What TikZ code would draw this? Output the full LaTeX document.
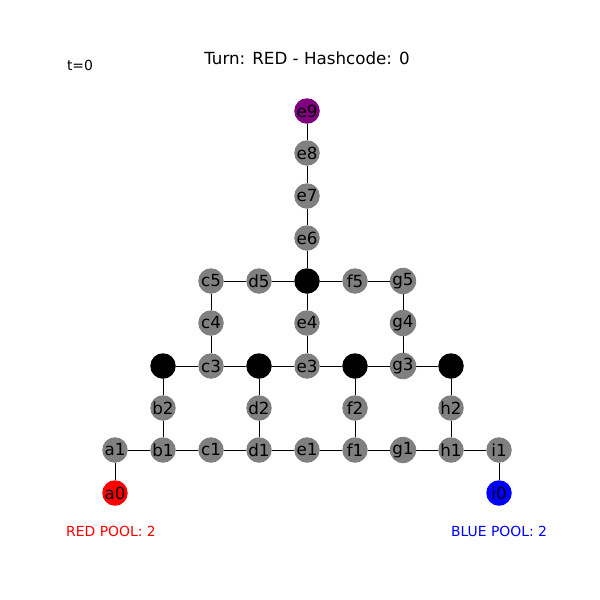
\documentclass[tikz,border=0pt]{standalone}
\usepackage{fontspec}
\setmainfont{DejaVu Sans}
\definecolor{nxpurple}{RGB}{128,0,128}
\definecolor{nxgray}{RGB}{128,128,128}
\begin{document}
\begin{tikzpicture}[x=1pt,y=-1pt,
  nd/.style={circle,fill=nxgray,minimum size=25.5pt,inner sep=0pt,font=\fontsize{16.7}{17}\selectfont},
  blk/.style={nd,fill=black},
  edge/.style={line width=1pt,black}]
\useasboundingbox[fill=white] (0,0) rectangle (600,600);
% nodes
\node[nd] (a1) at (115,450) {a1};
\node[nd] (b1) at (163,450) {b1};
\node[nd] (c1) at (211,450) {c1};
\node[nd] (d1) at (259,450) {d1};
\node[nd] (e1) at (307,450) {e1};
\node[nd] (f1) at (355,450) {f1};
\node[nd] (g1) at (403,450) {g1};
\node[nd] (h1) at (451,450) {h1};
\node[nd] (i1) at (499,450) {i1};
\node[nd,fill=red] (a0) at (115,493) {a0};
\node[nd,fill=blue] (i0) at (499,493) {i0};
\node[nd] (b2) at (163,408) {b2};
\node[nd] (d2) at (259,408) {d2};
\node[nd] (f2) at (355,408) {f2};
\node[nd] (h2) at (451,408) {h2};
\node[blk] (b3) at (163,366) {};
\node[nd] (c3) at (211,366) {c3};
\node[blk] (d3) at (259,366) {};
\node[nd] (e3) at (307,366) {e3};
\node[blk] (f3) at (355,366) {};
\node[nd] (g3) at (403,366) {g3};
\node[blk] (h3) at (451,366) {};
\node[nd] (c4) at (211,323) {c4};
\node[nd] (e4) at (307,323) {e4};
\node[nd] (g4) at (403,323) {g4};
\node[nd] (c5) at (211,281) {c5};
\node[nd] (d5) at (259,281) {d5};
\node[blk] (e5) at (307,281) {};
\node[nd] (f5) at (355,281) {f5};
\node[nd] (g5) at (403,281) {g5};
\node[nd] (e6) at (307,238) {e6};
\node[nd] (e7) at (307,196) {e7};
\node[nd] (e8) at (307,153) {e8};
\node[nd,fill=nxpurple] (e9) at (307,111) {e9};
% texts
\node[font=\fontsize{16.7}{18}\selectfont] (title) at (307,58) {Turn: RED - Hashcode: 0};
\node[font=\fontsize{13.9}{15}\selectfont] (t) at (80,65) {t=0};
\node[font=\fontsize{13.9}{15}\selectfont,text=red] (rp) at (111,531) {RED POOL: 2};
\node[font=\fontsize{13.9}{15}\selectfont,text=blue] (bp) at (499,531) {BLUE POOL: 2};
% edges
\foreach \u/\v in {a1/b1,b1/c1,c1/d1,d1/e1,e1/f1,f1/g1,g1/h1,h1/i1,a1/a0,i1/i0,
  b1/b2,b2/b3,d1/d2,d2/d3,f1/f2,f2/f3,h1/h2,h2/h3,
  b3/c3,c3/d3,d3/e3,e3/f3,f3/g3,g3/h3,
  c3/c4,c4/c5,c5/d5,d5/e5,e5/f5,f5/g5,g5/g4,g4/g3,e3/e4,e4/e5,
  e5/e6,e6/e7,e7/e8,e8/e9}
  \draw[edge] (\u) -- (\v);
\end{tikzpicture}
\end{document}
